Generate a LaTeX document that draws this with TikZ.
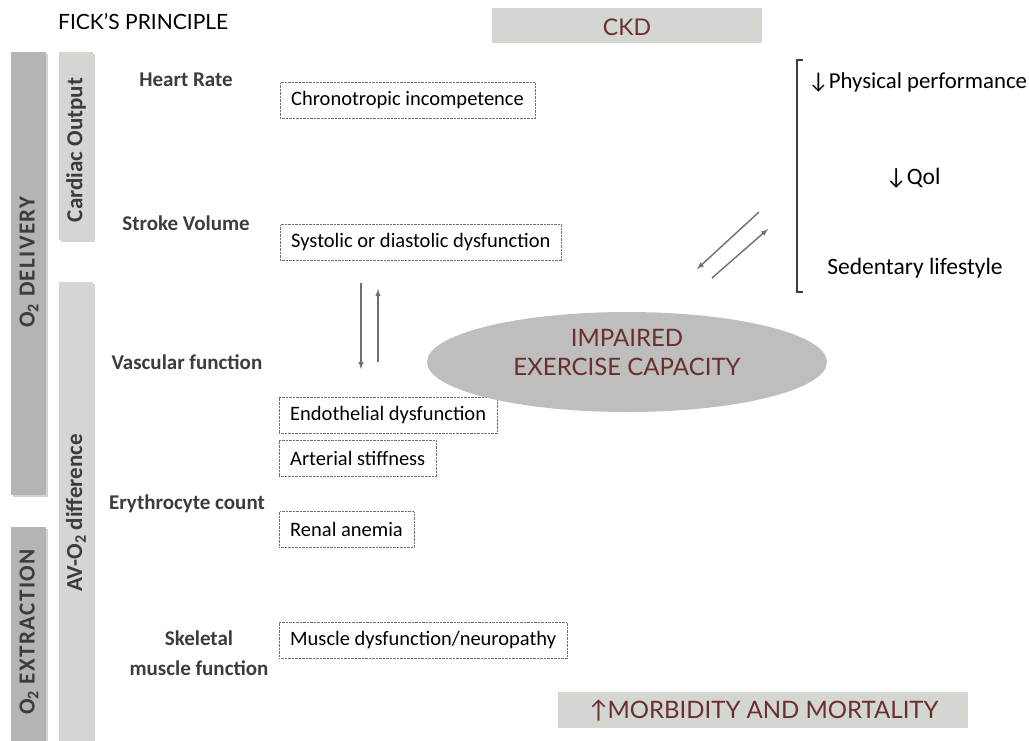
\documentclass[tikz,border=0pt]{standalone}
\usepackage{fontspec}
\setmainfont{Carlito}
\newfontfamily\capsfont{Lato}
\newfontfamily\barfont[LetterSpace=6]{Carlito}
\usetikzlibrary{shapes.geometric,shadows}
\definecolor{barDark}{HTML}{B4B4B4}
\definecolor{barLight}{HTML}{D4D7D1}
\definecolor{ovalGray}{HTML}{BEBEBE}
\definecolor{wine}{HTML}{6B2E2E}
\definecolor{labelGray}{HTML}{3C3C3C}
\definecolor{arrowGray}{HTML}{707070}
\begin{document}
\begin{tikzpicture}[x=1pt,y=-1pt,
	bar/.style={drop shadow={shadow xshift=2pt,shadow yshift=-2pt,opacity=0.35}},
	bartext/.style={rotate=90,font=\barfont\bfseries\fontsize{23}{26}\selectfont,text=labelGray},
	factor/.style={font=\bfseries\fontsize{21}{30}\selectfont,text=labelGray,align=center},
	dotbox/.style={draw=arrowGray,densely dotted,anchor=west,minimum height=36pt,inner xsep=11pt,font=\fontsize{20.5}{24}\selectfont},
	outcome/.style={font=\fontsize{23.5}{27}\selectfont},
	redtext/.style={text=wine,font=\capsfont\fontsize{24}{29}\selectfont},
	flow/.style={arrowGray,line width=1.4pt,-latex}]
	\useasboundingbox (0,0) rectangle (1029,740);
	% title
	\node[font=\capsfont\fontsize{21}{24}\selectfont,anchor=west,inner sep=0pt] (fick) at (58,22) {FICK’S PRINCIPLE};
	\fill[barLight] (492,8) rectangle (762,43);
	\node[redtext,font=\capsfont\fontsize{23}{29}\selectfont] (ckd) at (627,27) {CKD};
	% side bars
	\fill[barDark,bar] (11,52) rectangle (46,495);
	\fill[barDark,bar] (11,527) rectangle (46,745);
	\fill[barLight,bar] (59,52) rectangle (93,240);
	\fill[barLight,bar] (59,282) rectangle (93,745);
	\node[bartext] (delivery) at (29,262) {O\textsubscript{2} DELIVERY};
	\node[bartext] (extraction) at (29,632) {O\textsubscript{2} EXTRACTION};
	\node[bartext,font=\bfseries\fontsize{23}{26}\selectfont] (output) at (76,150) {Cardiac Output};
	\node[bartext,font=\bfseries\fontsize{23}{26}\selectfont] (avdiff) at (76,513) {AV-O\textsubscript{2} difference};
	% determinants
	\node[factor] (hr) at (186,80) {Heart Rate};
	\node[factor] (sv) at (186,223) {Stroke Volume};
	\node[factor] (vasc) at (187,362) {Vascular function};
	\node[factor] (ery) at (187,504) {Erythrocyte count};
	\node[factor] (skel) at (199,653) {Skeletal\\muscle function};
	% CKD alterations
	\node[dotbox] (chrono) at (280,100.5) {Chronotropic incompetence};
	\node[dotbox] (sysdia) at (280,242.5) {Systolic or diastolic dysfunction};
	\node[dotbox] (endo) at (279,415.5) {Endothelial dysfunction};
	\node[dotbox] (stiff) at (279,458.5) {Arterial stiffness};
	\node[dotbox] (anemia) at (279,529.5) {Renal anemia};
	\node[dotbox] (muscle) at (279,640.5) {Muscle dysfunction/neuropathy};
	% exercise capacity
	\node[ellipse,fill=ovalGray,minimum width=400pt,minimum height=100pt] (impaired) at (627,362) {};
	\node[redtext,align=center] (impairedtxt) at ([yshift=10pt]impaired.center) {IMPAIRED\\EXERCISE CAPACITY};
	\coordinate (dTop) at (361,283);
	\coordinate (dBot) at (361,369);
	\coordinate (uBot) at (378,362);
	\coordinate (uTop) at (378,289);
	\draw[flow] (dTop) -- (dBot);
	\draw[flow] (uBot) -- (uTop);
	\coordinate (aFrom) at (759,212);
	\coordinate (aTo) at (697,269);
	\coordinate (bFrom) at (712,278);
	\coordinate (bTo) at (768,229);
	\draw[flow] (aFrom) -- (aTo);
	\draw[flow] (bFrom) -- (bTo);
	% consequences
	\draw[labelGray,line width=1.2pt] (803,60) -- (797,60) -- (797,292) -- (803,292);
	\node[outcome,anchor=west,inner xsep=0pt,font=\fontsize{22.8}{26}\selectfont] (perf) at (808,82) {↓Physical performance};
	\node[outcome] (qol) at (913,178) {↓Qol};
	\node[outcome] (sed) at (915,268) {Sedentary lifestyle};
	\fill[barLight] (558,692) rectangle (968,728);
	\node[redtext] (morb) at (764,711) {↑MORBIDITY AND MORTALITY};
\end{tikzpicture}
\end{document}
